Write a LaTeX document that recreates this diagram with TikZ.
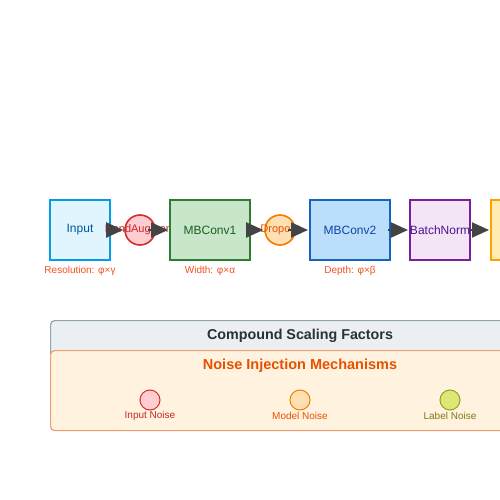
\documentclass[tikz,border=0pt]{standalone}
\usepackage{fontspec}
\setmainfont{Liberation Sans}
\usetikzlibrary{arrows.meta}
\definecolor{inF}{HTML}{E1F5FE}\definecolor{inD}{HTML}{039BE5}\definecolor{inT}{HTML}{01579B}
\definecolor{m1F}{HTML}{C8E6C9}\definecolor{m1D}{HTML}{2E7D32}\definecolor{m1T}{HTML}{1B5E20}
\definecolor{m2F}{HTML}{BBDEFB}\definecolor{m2D}{HTML}{1565C0}\definecolor{m2T}{HTML}{0D47A1}
\definecolor{bnF}{HTML}{F3E5F5}\definecolor{bnD}{HTML}{7B1FA2}\definecolor{bnT}{HTML}{4A148C}
\definecolor{lsF}{HTML}{FFECB3}\definecolor{lsD}{HTML}{FFA000}\definecolor{lsT}{HTML}{FF6F00}
\definecolor{raF}{HTML}{FFCDD2}\definecolor{raD}{HTML}{D32F2F}\definecolor{raT}{HTML}{C62828}
\definecolor{doF}{HTML}{FFE0B2}\definecolor{doD}{HTML}{F57C00}\definecolor{doT}{HTML}{E65100}
\definecolor{lnF}{HTML}{DCE775}\definecolor{lnD}{HTML}{9E9D24}\definecolor{lnT}{HTML}{827717}
\definecolor{scT}{HTML}{F4511E}
\definecolor{cfF}{HTML}{ECEFF1}\definecolor{cfD}{HTML}{90A4AE}\definecolor{cfT}{HTML}{263238}
\definecolor{niF}{HTML}{FFF3E0}\definecolor{niD}{HTML}{F0A070}\definecolor{niT}{HTML}{E65100}
\definecolor{arr}{HTML}{444444}
\tikzset{
  blk/.style={draw=#1D, fill=#1F, line width=2pt, minimum width=60pt, minimum height=60pt, inner sep=0pt, text=#1T, font=\fontsize{12}{14}\selectfont},
  dot/.style={circle, draw=#1D, fill=#1F, line width=1.6pt, minimum size=30pt, inner sep=0pt},
  dotlbl/.style={text=#1T, font=\fontsize{11}{13}\selectfont},
  scl/.style={text=scT, font=\fontsize{10}{12}\selectfont},
  conn/.style={draw=arr, line width=2pt, -{Triangle[length=17pt,width=15pt]}},
  panel/.style={draw=#1D, fill=#1F, line width=1.2pt, rounded corners=4pt},
  ndot/.style={circle, draw=#1D, fill=#1F, line width=1pt, minimum size=20pt, inner sep=0pt},
  nlbl/.style={text=#1T, font=\fontsize{10}{12}\selectfont},
}
\begin{document}
\begin{tikzpicture}[x=1pt,y=-1pt]
\useasboundingbox (0,0) rectangle (500,500);
\clip (0,0) rectangle (500,500);
% pipeline
\node[blk=in] (input) at (80,230) {Input};
\node[dot=ra] (ra) at (140,230) {};
\node[dotlbl=ra] (ratxt) at (140,230) {RandAugment};
\node[blk=m1, minimum width=80pt] (mb1) at (210,230) {MBConv1};
\node[dot=do] (do) at (280,230) {};
\node[dotlbl=do] (dotxt) at (280,230) {Dropout};
\node[blk=m2, minimum width=80pt] (mb2) at (350,230) {MBConv2};
\node[blk=bn] (bn) at (440,230) {BatchNorm};
\node[blk=ls, minimum width=80pt, anchor=west] (last) at (490,230) {};
% scaling labels
\node[scl] (s1) at (80,271) {Resolution: φ×γ};
\node[scl] (s2) at (210,271) {Width: φ×α};
\node[scl] (s3) at (350,271) {Depth: φ×β};
% connectors
\draw[conn] ([xshift=-3pt]input.east) -- ([xshift=-1pt]ra.west);
\draw[conn] ([xshift=-8pt]ra.east) -- ([xshift=-1pt]mb1.west);
\draw[conn] ([xshift=-3pt]mb1.east) -- ([xshift=-1pt]do.west);
\draw[conn] ([xshift=-8pt]do.east) -- ([xshift=-1pt]mb2.west);
\draw[conn] ([xshift=-3pt]mb2.east) -- ([xshift=-1pt]bn.west);
\draw[conn] ([xshift=-3pt]bn.east) -- ([xshift=-1pt]last.west);
% panels
\node[panel=cf, minimum width=520pt, minimum height=100pt, anchor=north west] (cf) at (50,320) {};
\node[text=cfT, font=\fontsize{14.3}{16}\selectfont\bfseries] (cft) at (300,335.5) {Compound Scaling Factors};
\node[panel=ni, minimum width=520pt, minimum height=80pt, anchor=north west] (ni) at (50,350) {};
\node[text=niT, font=\fontsize{14.5}{16}\selectfont\bfseries] (nit) at (300,365.5) {Noise Injection Mechanisms};
\node[ndot=ra] (n1) at (150,400) {};
\node[nlbl=ra] (n1t) at (150,416) {Input Noise};
\node[ndot=do] (n2) at (300,400) {};
\node[nlbl=do] (n2t) at (300,416) {Model Noise};
\node[ndot=ln] (n3) at (450,400) {};
\node[nlbl=ln] (n3t) at (450,416) {Label Noise};
\end{tikzpicture}
\end{document}
